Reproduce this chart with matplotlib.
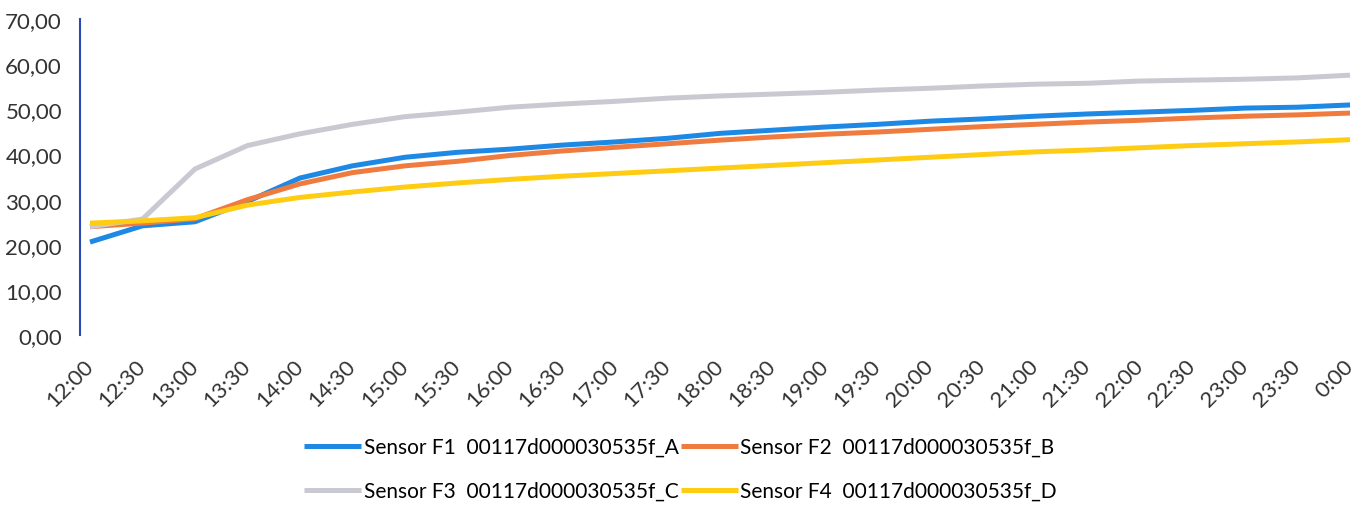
import numpy as np
import matplotlib.pyplot as plt

# half-hour readings from 12:00 to 0:00
times = ["12:00", "12:30", "13:00", "13:30", "14:00", "14:30", "15:00", "15:30",
         "16:00", "16:30", "17:00", "17:30", "18:00", "18:30", "19:00", "19:30",
         "20:00", "20:30", "21:00", "21:30", "22:00", "22:30", "23:00", "23:30", "0:00"]

sensor_a = [20.6, 24.2, 25.1, 29.6, 34.8, 37.5, 39.4, 40.5, 41.2, 42.1, 42.8, 43.6, 44.7,
            45.4, 46.1, 46.7, 47.4, 47.9, 48.5, 49.0, 49.4, 49.8, 50.3, 50.5, 51.0]
sensor_b = [24.0, 24.8, 25.8, 30.0, 33.5, 36.0, 37.5, 38.5, 39.8, 40.8, 41.6, 42.4, 43.2,
            43.9, 44.5, 45.0, 45.6, 46.2, 46.7, 47.2, 47.6, 48.1, 48.5, 48.8, 49.2]
sensor_c = [24.0, 25.7, 36.8, 42.0, 44.6, 46.7, 48.4, 49.4, 50.5, 51.2, 51.8, 52.5, 53.0,
            53.4, 53.8, 54.3, 54.7, 55.2, 55.6, 55.8, 56.3, 56.5, 56.7, 57.0, 57.6]
sensor_d = [24.8, 25.3, 26.0, 28.8, 30.5, 31.7, 32.8, 33.7, 34.5, 35.2, 35.8, 36.4, 37.0,
            37.6, 38.2, 38.8, 39.4, 40.0, 40.6, 41.0, 41.5, 42.0, 42.4, 42.8, 43.3]

labels = ["Sensor F1  00117d000030535f_A", "Sensor F2  00117d000030535f_B",
          "Sensor F3  00117d000030535f_C", "Sensor F4  00117d000030535f_D"]
colors = ["#1e88e5", "#f07b3f", "#c9c9d1", "#ffcc14"]

plt.rcParams['font.family'] = ['Lato', 'DejaVu Sans']

fig = plt.figure(figsize=(13.61, 5.06), dpi=100)
ax = fig.add_axes([0.0588, 0.336, 0.9370, 0.624])

x = np.arange(len(times))
lines = []
for vals, lab, col in zip([sensor_a, sensor_b, sensor_c, sensor_d], labels, colors):
    ln, = ax.plot(x, vals, color=col, lw=3.6, label=lab, solid_capstyle='butt')
    lines.append(ln)

ax.set_ylim(0, 70)
ax.set_yticks(np.arange(0, 71, 10))
ax.set_yticklabels([f"{v:.2f}".replace('.', ',') for v in range(0, 71, 10)],
                   fontsize=16, color='#333333')
ax.set_xlim(-0.19, len(times) - 1 + 0.1)
ax.set_xticks(x)
ax.set_xticklabels(times, rotation=45, ha='right', va='center', fontsize=16,
                   color='#333333', rotation_mode='anchor')

for s in ['top', 'right', 'bottom']:
    ax.spines[s].set_visible(False)
ax.spines['left'].set_color('#2a48b8')
ax.spines['left'].set_linewidth(1.5)
ax.tick_params(axis='both', length=0)
ax.tick_params(axis='x', pad=20)
ax.tick_params(axis='y', pad=13)

order = [0, 2, 1, 3]
fig.legend([lines[i] for i in order], [labels[i] for i in order],
           loc='center', bbox_to_anchor=(0.5, 0.071), ncol=2, frameon=False,
           fontsize=15, handlelength=2.75, handletextpad=0.12, columnspacing=0.1,
           labelspacing=1.15)

fig.savefig("out.png", dpi=100)
